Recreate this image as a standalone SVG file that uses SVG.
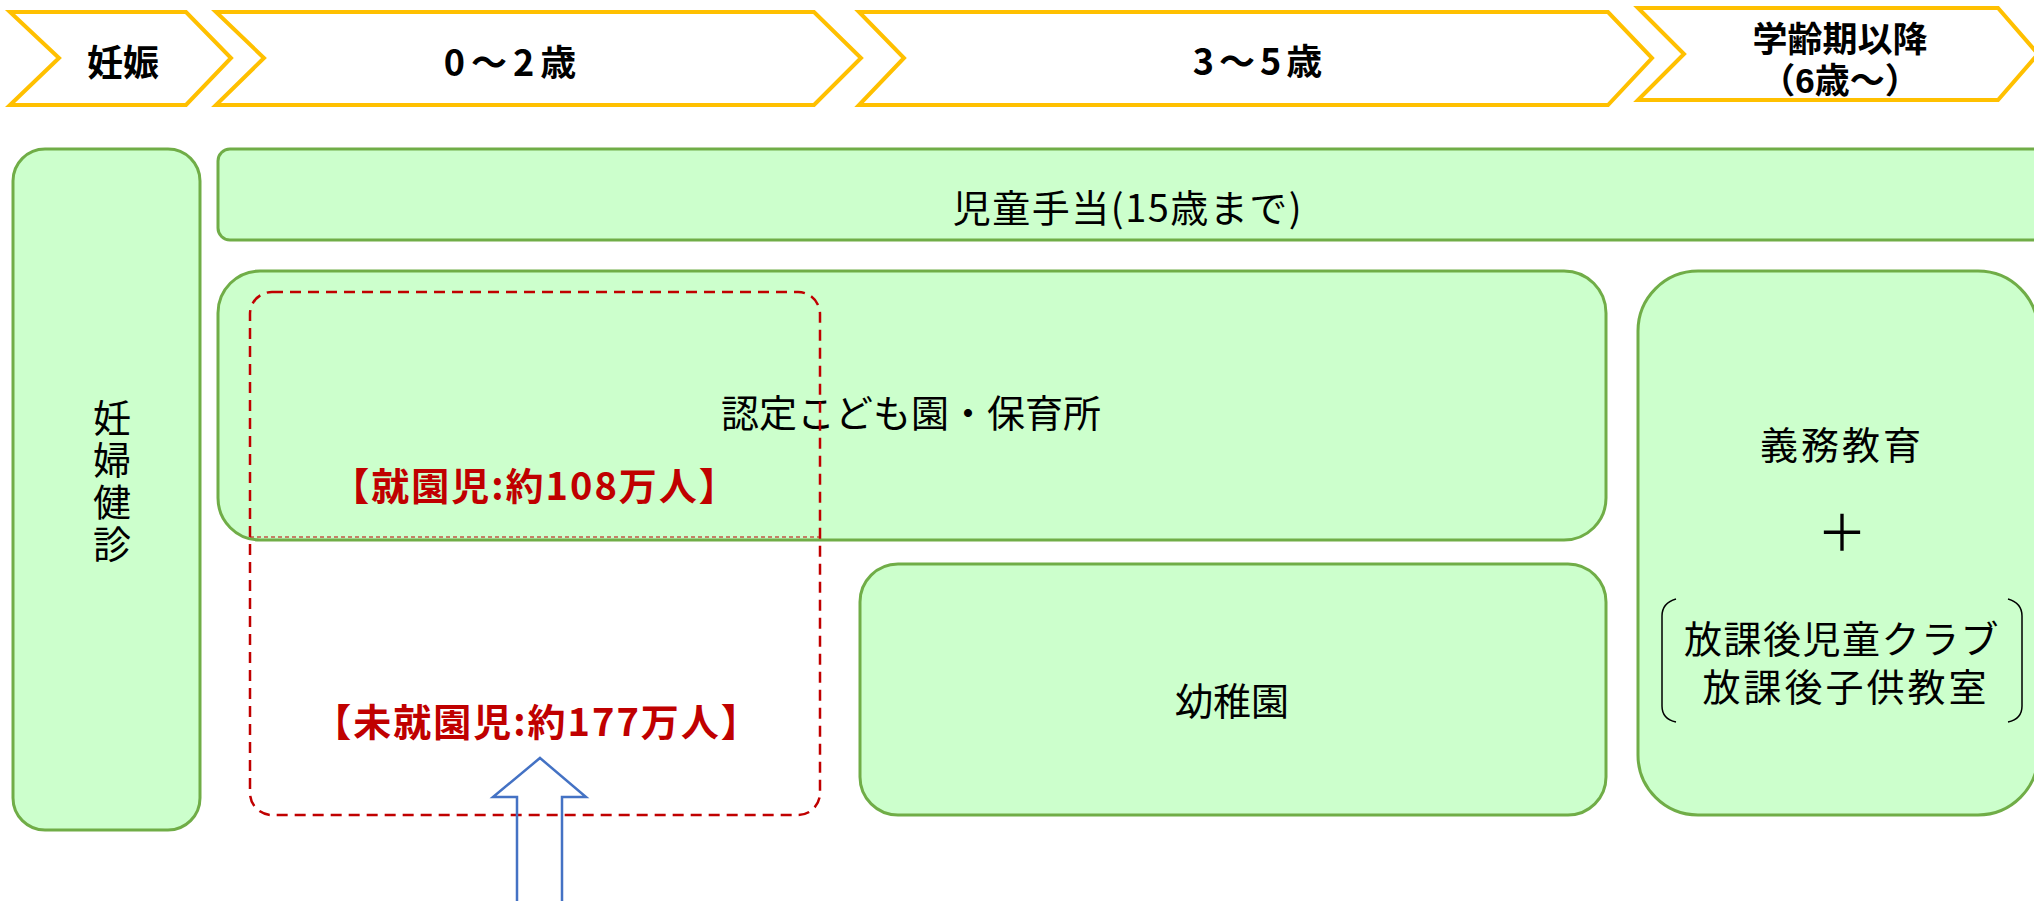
<svg xmlns="http://www.w3.org/2000/svg" width="2034" height="901" viewBox="0 0 2034 901">
<style>
.chev{fill:#fff;stroke:#FFC000;stroke-width:4}
.ct{font-family:"Noto Sans CJK JP","Noto Sans",sans-serif;font-weight:bold;font-size:36px;fill:#000;text-anchor:middle;dominant-baseline:central}
.box{fill:#CCFFCC;stroke:#70AD47;stroke-width:3}
.bt{font-family:"Noto Sans CJK JP","Noto Sans",sans-serif;font-size:38px;fill:#000;text-anchor:middle;dominant-baseline:central}
.tight{font-family:"Liberation Sans","Noto Sans CJK JP",sans-serif}
.rt{font-family:"Noto Sans CJK JP","Noto Sans",sans-serif;font-weight:bold;font-size:38px;fill:#C00000;text-anchor:middle;dominant-baseline:central;letter-spacing:2px}
.dash{fill:none;stroke:#C00000;stroke-width:2.5;stroke-dasharray:11 7}
</style>
<rect width="2034" height="901" fill="#fff"/>
<g id="chev-ninshin"><polygon class="chev" points="10,12 186,12 231,58 186,105 10,105 59,58"/><text class="ct" x="123" y="60">妊娠</text></g>
<g id="chev-0-2"><polygon class="chev" points="216,12 814,12 861,58 814,105 216,105 264,58"/><text class="ct" x="513" y="60" letter-spacing="6">0～2歳</text></g>
<g id="chev-3-5"><polygon class="chev" points="859,12 1608,12 1652,58 1608,105 859,105 904,58"/><text class="ct" x="1260" y="59" letter-spacing="5">3～5歳</text></g>
<g id="chev-school"><polygon class="chev" points="1638,8 1998,8 2038,54 1998,100 1638,100 1684,54"/><text class="ct tight" style="font-size:35px"><tspan x="1840" y="39">学齢期以降</tspan><tspan x="1840" y="80">（6歳～）</tspan></text></g>
<g id="box-ninpu"><rect class="box" x="13" y="149" width="187" height="681" rx="32"/><text class="bt" x="112" y="483" writing-mode="vertical-rl" letter-spacing="4">妊婦健診</text></g>
<g id="box-jido"><rect class="box" x="218" y="149" width="1830" height="91" rx="12"/><text class="bt" x="1128" y="205" letter-spacing="1.5">児童手当(15歳まで)</text></g>
<g id="box-nintei"><rect class="box" x="218" y="271" width="1388" height="269" rx="42"/><text class="bt" x="911" y="410">認定こども園・保育所</text></g>
<g id="box-yochien"><rect class="box" x="860" y="564" width="746" height="251" rx="38"/><text class="bt" x="1232" y="698">幼稚園</text></g>
<g id="box-gimu"><rect class="box" x="1638" y="271" width="400" height="544" rx="60"/><text class="bt" x="1842" y="442" letter-spacing="3">義務教育</text><text class="bt tight" x="1842" y="534" style="font-size:50px">＋</text><text class="bt tight"><tspan x="1842" y="640" letter-spacing="1.5">放課後児童クラブ</tspan><tspan x="1846" y="688" letter-spacing="3">放課後子供教室</tspan></text><path d="M1676,599 Q1662,603 1662,616 L1662,706 Q1662,719 1676,722" fill="none" stroke="#000" stroke-width="1.5"/><path d="M2008,599 Q2022,603 2022,616 L2022,706 Q2022,719 2008,722" fill="none" stroke="#000" stroke-width="1.5"/></g>
<g id="group-enji"><rect class="dash" x="250" y="292" width="570" height="523" rx="22"/><line x1="250" y1="537" x2="820" y2="537" stroke="#C00000" stroke-width="1" stroke-dasharray="4 3"/><text class="rt" x="535" y="483">【就園児:約108万人】</text><text class="rt" x="537" y="719">【未就園児:約177万人】</text></g>
<g id="connectors"><path d="M540,758 L586,797 L562,797 L562,905 L517,905 L517,797 L493,797 Z" fill="none" stroke="#4472C4" stroke-width="2.5"/></g>
</svg>
